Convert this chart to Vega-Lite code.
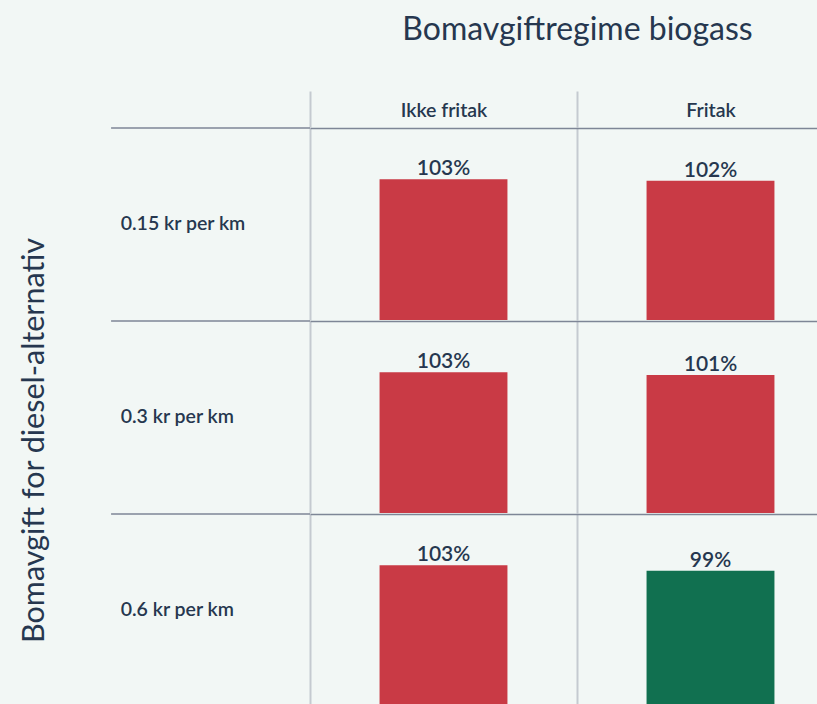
{
  "$schema": "https://vega.github.io/schema/vega-lite/v6.json",
  "background": "#f2f7f5",
  "padding": {"left": 19, "top": 13, "right": 0, "bottom": 0},
  "config": {"view": {"stroke": null}, "font": "Lato"},
  "title": {
    "text": "Bomavgift for diesel-alternativ",
    "orient": "left", "anchor": "middle", "frame": "bounds",
    "font": "Lato", "fontSize": 30.5, "fontWeight": "normal", "color": "#26374f",
    "offset": 60, "dx": -81
  },
  "data": {"values": [
    {"toll": "0.15 kr per km", "regime": "Ikke fritak", "value": 1.03},
    {"toll": "0.15 kr per km", "regime": "Fritak", "value": 1.02},
    {"toll": "0.3 kr per km", "regime": "Ikke fritak", "value": 1.03},
    {"toll": "0.3 kr per km", "regime": "Fritak", "value": 1.01},
    {"toll": "0.6 kr per km", "regime": "Ikke fritak", "value": 1.03},
    {"toll": "0.6 kr per km", "regime": "Fritak", "value": 0.99}
  ]},
  "facet": {
    "row": {
      "field": "toll", "type": "nominal",
      "sort": ["0.15 kr per km", "0.3 kr per km", "0.6 kr per km"],
      "header": {"labels": false, "title": null}
    }
  },
  "spacing": 0,
  "spec": {
    "width": 534,
    "height": 192,
    "encoding": {
      "x": {
        "field": "regime", "type": "nominal",
        "scale": {"domain": ["Ikke fritak", "Fritak"], "paddingInner": 0, "paddingOuter": 0},
        "axis": {
          "orient": "top", "tickBand": "extent", "grid": true, "gridColor": "#c5cad0", "gridWidth": 2,
          "ticks": true, "tickSize": 36, "tickColor": "#c5cad0", "tickWidth": 2, "domain": false,
          "labelAngle": 0, "labelFont": "Lato", "labelFontSize": 19.5, "labelFontWeight": 600,
          "labelColor": "#26374f", "labelPadding": -29,
          "title": "Bomavgiftregime biogass", "titleFont": "Lato", "titleFontSize": 32,
          "titleFontWeight": "normal", "titleColor": "#26374f", "titlePadding": 44
        }
      }
    },
    "layer": [
      {
        "mark": {"type": "bar", "width": {"band": 0.479}},
        "encoding": {
          "y": {
            "field": "value", "type": "quantitative",
            "scale": {"domain": [0, 1.4056], "nice": false},
            "axis": {
              "values": [1.4056], "grid": true, "gridColor": "#7e8696", "gridWidth": 1.5,
              "ticks": false, "labels": false, "domain": false, "title": null
            }
          },
          "color": {
            "condition": {"test": "datum.value < 1", "value": "#117050"},
            "value": "#c93a45"
          }
        }
      },
      {
        "transform": [{"filter": "datum.regime === 'Ikke fritak'"}],
        "mark": {"type": "rule", "color": "#7e8696", "strokeWidth": 1.5},
        "encoding": {
          "x": {"datum": "Ikke fritak", "bandPosition": -0.745},
          "x2": {"datum": "Ikke fritak", "bandPosition": 0},
          "y": {"datum": 1.4056, "type": "quantitative"}
        }
      },
      {
        "mark": {"type": "text", "baseline": "alphabetic", "dy": -4, "fontSize": 21, "fontWeight": 600, "color": "#26374f", "font": "Lato"},
        "encoding": {
          "y": {"field": "value", "type": "quantitative"},
          "text": {"field": "value", "type": "quantitative", "format": ".0%"}
        }
      },
      {
        "transform": [{"filter": "datum.regime === 'Ikke fritak'"}],
        "mark": {"type": "text", "align": "left", "baseline": "middle", "fontSize": 19.5, "fontWeight": 600, "color": "#26374f", "font": "Lato"},
        "encoding": {
          "x": {"datum": "Ikke fritak", "bandPosition": -0.709},
          "text": {"field": "toll", "type": "nominal"}
        }
      }
    ]
  }
}
